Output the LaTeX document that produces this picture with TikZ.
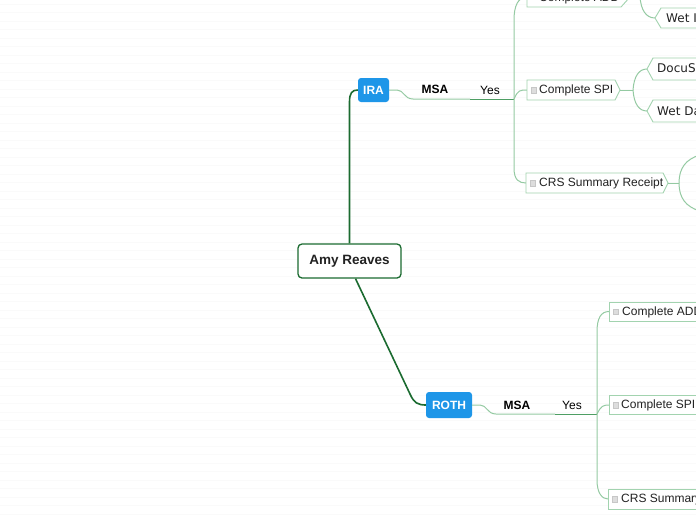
\documentclass[tikz,border=0pt]{standalone}
\usepackage{fontspec}
\setmainfont{Liberation Sans}
\newfontfamily\verd{DejaVu Sans}
\definecolor{dgreen}{HTML}{1B6B30}
\definecolor{mgreen}{HTML}{4E9E63}
\definecolor{lgreen}{HTML}{94CAA2}
\definecolor{bgreen}{HTML}{A2D3AF}
\definecolor{tagblue}{HTML}{1E96E8}
\definecolor{txt}{HTML}{222222}
\definecolor{chkfill}{HTML}{DDDDDD}
\tikzset{
  centernode/.style={draw=dgreen, line width=1.3pt, rounded corners=4pt, fill=white,
    minimum width=103pt, minimum height=34pt, inner sep=0pt,
    font=\fontsize{13.5}{16}\selectfont\bfseries, text=txt},
  tagnode/.style={fill=tagblue, rounded corners=3pt, inner sep=0pt, text=white,
    font=\fontsize{12}{14}\selectfont\bfseries},
  lbl/.style={inner sep=0pt, anchor=west, text=txt, font=\fontsize{12}{14}\selectfont},
  vlbl/.style={inner sep=0pt, anchor=west, text=txt, font=\verd\fontsize{12}{14}\selectfont},
  edgelbl/.style={inner sep=0pt, text=black, font=\fontsize{12}{14}\selectfont},
  chk/.style={draw=black!22, fill=chkfill, minimum size=5.5pt, inner sep=0pt, line width=0.4pt},
  boxline/.style={draw=bgreen, fill=white, line width=0.9pt, line join=miter},
  thick link/.style={draw=dgreen, line width=1.6pt},
  thin link/.style={draw=lgreen, line width=1pt},
  mid link/.style={draw=mgreen, line width=1pt}
}
\begin{document}
\begin{tikzpicture}[x=1pt,y=-1pt]
\useasboundingbox (0,0) rectangle (696,520);
\clip (0,0) rectangle (696,520);
\fill[white] (0,0) rectangle (696,520);
\foreach \yy in {4,12.5,...,520} \draw[black!2, line width=0.7pt] (0,\yy) -- (696,\yy);

% ---------------- main nodes
\node[centernode] (amy) at (349.5,261) {Amy Reaves};
\node[tagnode, minimum width=31pt, minimum height=24pt] (ira) at (373.5,90) {IRA};
\node[tagnode, minimum width=46pt, minimum height=26pt] (roth) at (449,405) {ROTH};

\draw[thick link] (amy.north) -- (349.5,102) .. controls (349.5,93) and (352,90) .. (ira.west);
\draw[thick link] ([xshift=6pt]amy.south) -- (410,394) .. controls (414,403) and (418,405) .. (roth.west);

% ---------------- IRA branch
\coordinate (t1) at (514,99);
\draw[thin link] (ira.east) -- (397,90) .. controls (404,90) and (404,99) .. (413,99) -- (470,99);
\draw[mid link] (470,99) -- (t1);
\node[edgelbl, font=\fontsize{12}{14}\selectfont\bfseries] (msa1) at (435,89) {MSA};
\node[edgelbl] (yes1) at (490,90) {Yes};

% boxes (IRA)
\coordinate (add1w) at (527,-3);
\coordinate (spi1w) at (527,90);
\coordinate (crs1w) at (526,183);
\coordinate (add1tip) at (630,-3);
\coordinate (spi1tip) at (620,90);
\coordinate (crs1tip) at (668,183);

\draw[thin link] (t1) -- (514,20) .. controls (514,6) and (518,-3) .. (add1w);
\draw[thin link] (t1) -- (514,168) .. controls (514,180) and (519,183) .. (crs1w);
\draw[thin link] (t1) .. controls (518,90) and (520,90) .. (spi1w);

\path[boxline] (527,-13) -- (621,-13) -- (add1tip) -- (621,7) -- (527,7) -- cycle;
\node[chk] (add1c) at (533.5,-3) {};
\node[lbl] (add1) at (539,-2) {Complete ADD};

\path[boxline] (527,80) -- (615,80) -- (spi1tip) -- (615,100) -- (527,100) -- cycle;
\node[chk] (spi1c) at (533.5,90) {};
\node[lbl] (spi1) at (539,90.5) {Complete SPI};

\path[boxline] (526,173) -- (663,173) -- (crs1tip) -- (663,193) -- (526,193) -- cycle;
\node[chk] (crs1c) at (532.5,183) {};
\node[lbl] (crs1) at (539,183.5) {CRS Summary Receipt};

% children of Complete ADD
\coordinate (wetIw) at (655,18);
\draw[thin link] (add1tip) -- (640,-3) .. controls (641,10) and (646,18) .. (wetIw);
\draw[thin link] (640,-3) .. controls (641,-10) and (644,-14) .. (648,-18);
\path[boxline] (720,8) -- (661,8) -- (wetIw) -- (661,28) -- (720,28);
\node[vlbl] (wetI) at (666,18.5) {Wet Ink};

% children of Complete SPI
\coordinate (docuw) at (647,69);
\coordinate (wetDw) at (647,111);
\draw[thin link] (spi1tip) -- (633,90);
\draw[thin link] (633,90) .. controls (634,76) and (639,69) .. (docuw);
\draw[thin link] (633,90) .. controls (634,104) and (639,111) .. (wetDw);
\path[boxline] (720,58) -- (653,58) -- (docuw) -- (653,80) -- (720,80);
\node[vlbl] (docu) at (657,69.5) {DocuSign};
\path[boxline] (720,100) -- (653,100) -- (wetDw) -- (653,122) -- (720,122);
\node[vlbl] (wetD) at (657,111.5) {Wet Date};

% children of CRS Summary Receipt
\coordinate (crsup) at (700,155);
\coordinate (crsdn) at (700,211);
\draw[thin link] (crs1tip) -- (679,183);
\draw[thin link] (679,183) .. controls (679,168) and (686,159) .. (crsup);
\draw[thin link] (679,183) .. controls (679,198) and (686,207) .. (crsdn);

% ---------------- ROTH branch
\coordinate (t2) at (597,414);
\draw[thin link] (roth.east) -- (480,405) .. controls (487,405) and (487,414) .. (496,414) -- (555,414);
\draw[mid link] (555,414) -- (t2);
\node[edgelbl, font=\fontsize{12}{14}\selectfont\bfseries] (msa2) at (517,405) {MSA};
\node[edgelbl] (yes2) at (572,405.5) {Yes};

\coordinate (add2w) at (609,311.5);
\coordinate (spi2w) at (609,405);
\coordinate (crs2w) at (608,499);

\draw[thin link] (t2) -- (597,332) .. controls (597,318) and (601,311.5) .. (add2w);
\draw[thin link] (t2) -- (597,480) .. controls (597,493) and (602,499) .. (crs2w);
\draw[thin link] (t2) .. controls (601,406) and (603,405) .. (spi2w);

\path[boxline] (720,302) -- (609,302) -- (609,321) -- (720,321);
\node[chk] (add2c) at (615.5,311.5) {};
\node[lbl] (add2) at (622,312) {Complete ADD};

\path[boxline] (720,395.5) -- (609,395.5) -- (609,414.5) -- (720,414.5);
\node[chk] (spi2c) at (615.5,405) {};
\node[lbl] (spi2) at (621,405.5) {Complete SPI};

\path[boxline] (720,489) -- (608,489) -- (608,509) -- (720,509);
\node[chk] (crs2c) at (614.5,499) {};
\node[lbl] (crs2) at (621,499.5) {CRS Summary Receipt};
\end{tikzpicture}
\end{document}
